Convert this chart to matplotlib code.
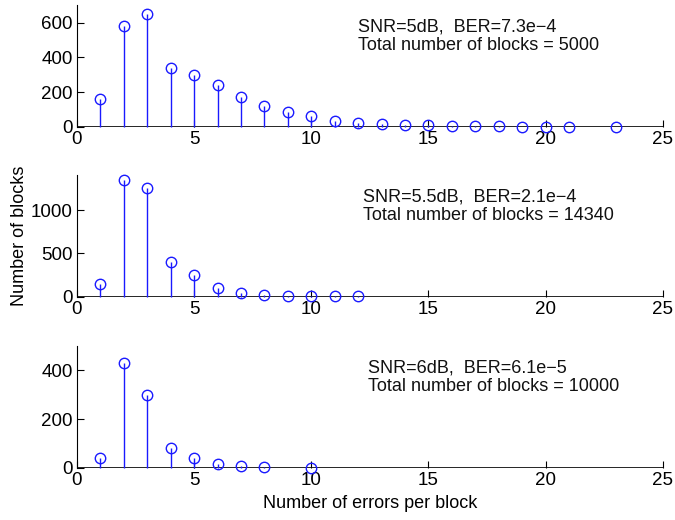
import matplotlib
matplotlib.use("Agg")
import matplotlib.pyplot as plt

plt.rcParams['font.family'] = ['Liberation Sans', 'DejaVu Sans']

x1 = [1, 2, 3, 4, 5, 6, 7, 8, 9, 10, 11, 12, 13, 14, 15, 16, 17, 18, 19, 20, 21, 23]
y1 = [160, 580, 650, 340, 300, 240, 170, 120, 85, 60, 35, 20, 15, 10, 8, 5, 4, 3, 2, 2, 1, 1]
x2 = [1, 2, 3, 4, 5, 6, 7, 8, 9, 10, 11, 12]
y2 = [150, 1350, 1250, 400, 250, 100, 50, 25, 15, 10, 5, 5]
x3 = [1, 2, 3, 4, 5, 6, 7, 8, 10]
y3 = [40, 430, 300, 80, 40, 15, 10, 5, 2]

texts = [
    "SNR=5dB,  BER=7.3e\u22124\nTotal number of blocks = 5000",
    "SNR=5.5dB,  BER=2.1e\u22124\nTotal number of blocks = 14340",
    "SNR=6dB,  BER=6.1e\u22125\nTotal number of blocks = 10000",
]
ylims = [700, 1400, 500]
yticks = [[0, 200, 400, 600], [0, 500, 1000], [0, 200, 400]]
text_pos = [(12.0, 0.89), (12.2, 0.89), (12.4, 0.89)]
xticks = [0, 5, 10, 15, 20, 25]

fig = plt.figure(figsize=(6.75, 5.2), dpi=100)
boxes = [(0.114, 0.756, 0.868, 0.234), (0.114, 0.429, 0.868, 0.234), (0.114, 0.100, 0.868, 0.235)]
data = [(x1, y1), (x2, y2), (x3, y3)]
for i, (b, (xs, ys)) in enumerate(zip(boxes, data)):
    ax = fig.add_axes(b)
    ml, sl, bl = ax.stem(xs, ys, basefmt='k-')
    plt.setp(ml, marker='o', markerfacecolor='none', markeredgecolor='#1a1aff', markersize=7.5, markeredgewidth=1.0)
    plt.setp(sl, color='#1a1aff', linewidth=1.0)
    bl.set_visible(False)
    ax.axhline(0, color='black', linewidth=1.2, zorder=0.5)
    ax.set_xlim(0, 25)
    ax.set_ylim(0, ylims[i])
    ax.set_xticks(xticks)
    ax.set_yticks(yticks[i])
    ax.spines['top'].set_visible(False)
    ax.spines['right'].set_visible(False)
    ax.spines['bottom'].set_visible(False)
    ax.spines['left'].set_linewidth(0.8)
    ax.tick_params(direction='in', length=5, labelsize=13.5, width=0.8, pad=3)
    for a in (ml, sl):
        a.set_clip_on(False)
    tx, ty = text_pos[i]
    ax.text(tx, ty * ylims[i], texts[i], fontsize=13, va='top', ha='left', linespacing=1.1, color='#111111')
    if i == 1:
        ax.set_ylabel("Number of blocks", fontsize=13, labelpad=2)
    if i == 2:
        ax.set_xlabel("Number of errors per block", fontsize=13, labelpad=4)

fig.savefig("out.png", dpi=100)
